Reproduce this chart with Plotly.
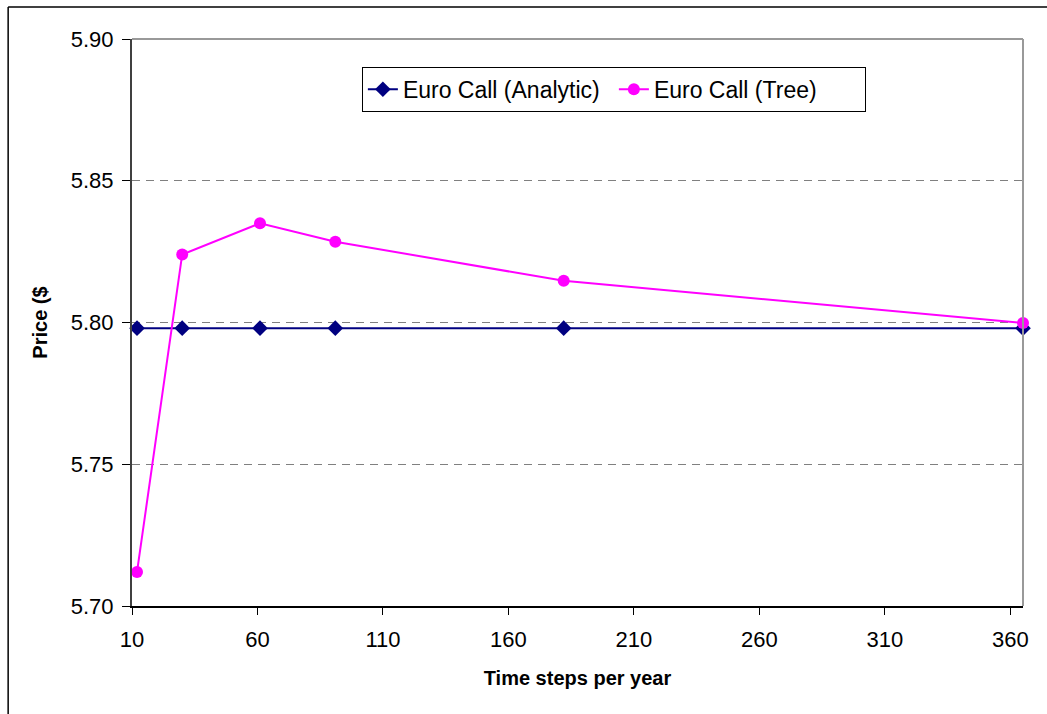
import plotly.graph_objects as go

steps = [12, 30, 61, 91, 182, 365]
analytic = [5.798, 5.798, 5.798, 5.798, 5.798, 5.798]
tree = [5.712, 5.824, 5.835, 5.8285, 5.8147, 5.7998]
x_ticks = [10, 60, 110, 160, 210, 260, 310, 360]
y_ticks = [5.70, 5.75, 5.80, 5.85, 5.90]

FONT = "Liberation Sans, Arial, sans-serif"

fig = go.Figure()
fig.add_trace(go.Scatter(
    x=steps, y=analytic, mode="lines+markers", name="Euro Call (Analytic)",
    line=dict(color="#000080", width=2),
    marker=dict(symbol="diamond", size=12, color="#000080"),
    cliponaxis=False,
))
fig.add_trace(go.Scatter(
    x=steps, y=tree, mode="lines+markers", name="Euro Call (Tree)",
    line=dict(color="#FF00FF", width=2),
    marker=dict(symbol="circle", size=12, color="#FF00FF"),
    cliponaxis=False,
))

fig.update_layout(
    width=1047, height=714,
    margin=dict(l=132, r=24, t=39, b=108),
    paper_bgcolor="white", plot_bgcolor="white",
    font=dict(family=FONT, color="black", size=22),
    showlegend=True,
    legend=dict(
        orientation="h", x=0.258, y=0.951, xanchor="left", yanchor="top",
        bordercolor="black", borderwidth=1, bgcolor="white",
        font=dict(size=23), itemclick=False, entrywidth=206,
    ),
    xaxis=dict(
        range=[10, 365], tickvals=x_ticks, ticktext=[str(v) for v in x_ticks],
        showgrid=False, zeroline=False,
        showline=True, linecolor="black", linewidth=1.5,
        ticks="outside", ticklen=7, tickcolor="black",
        tickfont=dict(size=22), ticklabelstandoff=6,
        title=dict(text="<b>Time steps per year</b>", font=dict(size=20), standoff=20),
    ),
    yaxis=dict(
        range=[5.70, 5.90], tickvals=y_ticks, ticktext=[f"{v:.2f}" for v in y_ticks],
        showgrid=True, gridcolor="#808080", gridwidth=1, griddash="8px,6px",
        zeroline=False,
        showline=True, linecolor="#404040", linewidth=2,
        ticks="outside", ticklen=8, tickcolor="black",
        tickfont=dict(size=22), ticklabelstandoff=4,
        title=dict(text="<b>Price ($</b>", font=dict(size=20), standoff=18),
    ),
)

# plot-area top and right borders (grey)
fig.add_shape(type="line", xref="paper", yref="paper", x0=0, x1=1, y0=1, y1=1,
              line=dict(color="#999999", width=2))
fig.add_shape(type="line", xref="paper", yref="paper", x0=1, x1=1, y0=0, y1=1,
              line=dict(color="#999999", width=2))
# outer chart frame (top and left)
fig.add_shape(type="line", xref="paper", yref="paper", x0=-0.139, x1=1.03, y0=1.0564, y1=1.0564,
              line=dict(color="black", width=1.5))
fig.add_shape(type="line", xref="paper", yref="paper", x0=-0.139, x1=-0.139, y0=-0.2, y1=1.0564,
              line=dict(color="black", width=1.5))

fig.write_html("out.html")
